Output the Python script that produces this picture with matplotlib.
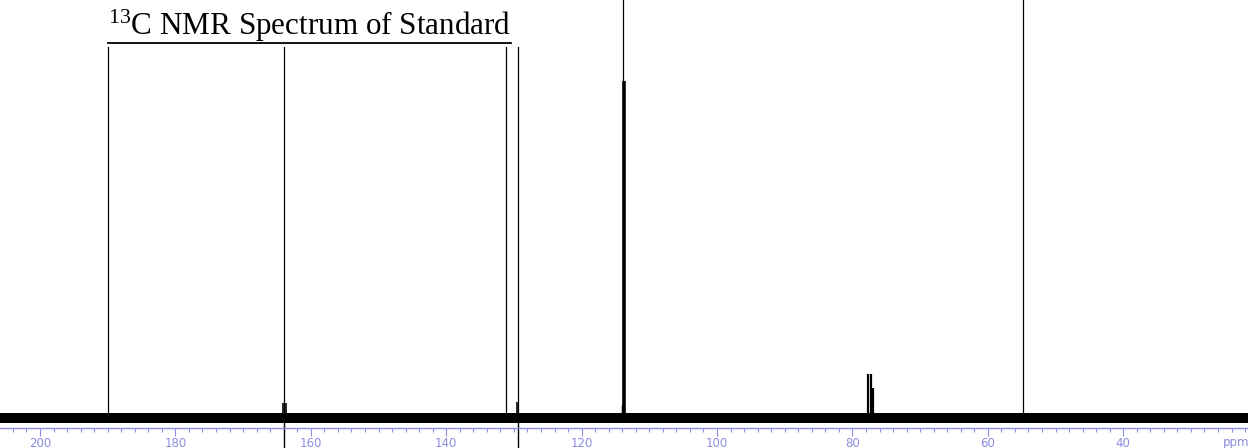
import matplotlib
matplotlib.use("Agg")
import matplotlib.pyplot as plt
from matplotlib.lines import Line2D
from matplotlib.patches import Rectangle
from matplotlib.ticker import MultipleLocator

# peak list: chemical shift (ppm) and intensity (arbitrary units, baseline = 0)
peak_ppm = [189.9, 164.15, 163.96, 163.66, 131.17, 129.5, 129.39,
            113.9, 113.84, 113.7, 77.65, 77.30, 77.00, 54.85]
peak_height = [9.0, 0.15, 9.0, 0.15, 9.0, 0.16, 9.0,
               0.13, 9.0, 3.37, 0.44, 0.44, 0.30, 9.0]
peak_width = [0.9, 1.2, 0.9, 1.2, 0.9, 1.2, 0.9,
              2.5, 0.9, 2.6, 1.6, 1.6, 1.6, 0.9]

# shifts whose trace runs down through the scale
through_ppm = [163.96, 129.39]

major_ticks = [200, 180, 160, 140, 120, 100, 80, 60, 40]
noise_level = 0.05

scale_color = "#8c8ce0"

fig = plt.figure(figsize=(12.48, 4.48), dpi=100)
ax = fig.add_axes([0.0, 20 / 448, 1.0, 428 / 448])
ax.set_xlim(205.91, 21.57)
ax.set_ylim(-0.10, 4.18)

# baseline noise band
ax.fill_between([205.91, 21.57], -noise_level, noise_level, color="black", lw=0)

for ppm, h, w in zip(peak_ppm, peak_height, peak_width):
    ax.vlines(ppm, 0, h, color="black", lw=w)

for ppm in through_ppm:
    ax.vlines(ppm, -0.32, 0, color="black", lw=1.0, clip_on=False)

for side in ["left", "right", "top"]:
    ax.spines[side].set_visible(False)
ax.spines["bottom"].set_color(scale_color)
ax.spines["bottom"].set_linewidth(1.0)
ax.set_yticks([])
ax.set_xticks(major_ticks)
ax.xaxis.set_minor_locator(MultipleLocator(2))
ax.tick_params(axis="x", which="major", direction="out", length=6, width=0.8,
               color=scale_color, labelcolor=scale_color, labelsize=8.5, pad=0.5)
ax.tick_params(axis="x", which="minor", direction="out", length=3, width=0.8,
               color=scale_color)
ax.text(1236 / 1248, -14.5 / 428, "ppm", transform=ax.transAxes,
        ha="center", va="center", color=scale_color, fontsize=8.5)

# title sits on a white patch that hides the traces behind it
fig.add_artist(Rectangle((100 / 1248, 1 - 47 / 448), 422 / 1248, 47 / 448,
                         transform=fig.transFigure, facecolor="white",
                         edgecolor="none", zorder=2))

plt.rcParams["mathtext.fontset"] = "custom"
plt.rcParams["mathtext.rm"] = "Liberation Serif"
title = fig.text(108 / 1248, 1 - 35.5 / 448, r"$\mathregular{^{13}}$C NMR Spectrum of Standard",
                 family="Liberation Serif", fontsize=22.4, ha="left", va="baseline",
                 zorder=3)

# underline the title
fig.canvas.draw()
bb = title.get_window_extent().transformed(fig.transFigure.inverted())
fig.add_artist(Line2D([bb.x0, bb.x1], [1 - 42.7 / 448] * 2,
                      transform=fig.transFigure, color="black", lw=1.3, zorder=3))

fig.savefig("out.png", dpi=100)
